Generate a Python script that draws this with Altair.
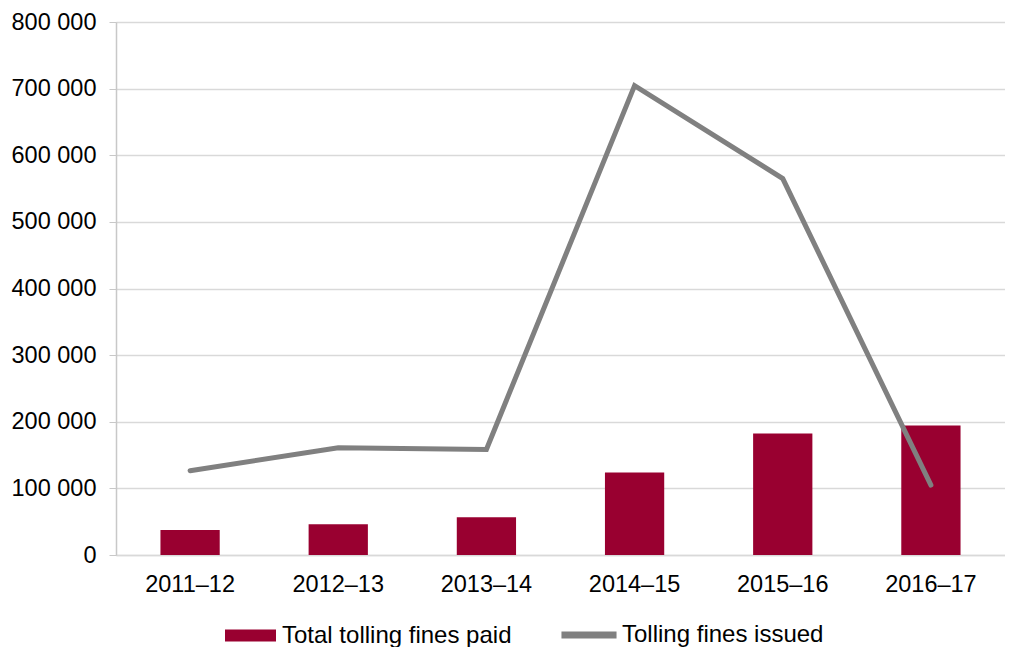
import altair as alt
import pandas as pd

years = ["2011–12", "2012–13", "2013–14", "2014–15", "2015–16", "2016–17"]
paid = [37500, 46000, 56500, 124000, 182500, 194500]
issued = [126500, 161000, 158500, 704500, 565000, 105000]

S_PAID = "Total tolling fines paid"
S_ISSUED = "Tolling fines issued"
MAROON = "#990030"
GRAY = "#808080"

rows = []
for y, p, i in zip(years, paid, issued):
    rows.append({"year": y, "series": S_PAID, "value": p})
    rows.append({"year": y, "series": S_ISSUED, "value": i})
df = pd.DataFrame(rows)

font = "Liberation Sans"
FS = 23.5

x_enc = alt.X(
    "year:N",
    sort=years,
    title=None,
    scale=alt.Scale(paddingInner=0.6, paddingOuter=0.3),
    axis=alt.Axis(
        labelAngle=0, ticks=False, labelPadding=17, labelFontSize=FS,
        labelColor="#000000", domainColor="#D9D9D9", domainWidth=1.5, grid=False,
        labelFont=font,
    ),
)
y_enc = alt.Y(
    "value:Q",
    title=None,
    scale=alt.Scale(domain=[0, 800000], nice=False),
    axis=alt.Axis(
        values=[0, 100000, 200000, 300000, 400000, 500000, 600000, 700000, 800000],
        labelExpr="replace(format(datum.value, ','), regexp(',', 'g'), ' ')",
        labelFontSize=FS, labelColor="#000000", labelPadding=13, tickSize=7,
        tickColor="#C8C8C8", domainColor="#C8C8C8", domainWidth=1.5,
        gridColor="#D9D9D9", gridWidth=1.5, labelFont=font,
    ),
)

common_legend = dict(
    orient="none", direction="horizontal", title=None, symbolSize=2601,
    labelFontSize=24, labelColor="#000000", labelFont=font,
    padding=0, labelLimit=0,
)

bar_color = alt.Color(
    "series:N",
    scale=alt.Scale(domain=[S_PAID], range=[MAROON]),
    legend=alt.Legend(
        legendX=109, legendY=588, symbolType="M-1,-0.235H1V0.235H-1Z",
        symbolStrokeWidth=0, labelOffset=6, **common_legend,
    ),
)
line_stroke = alt.Stroke(
    "series:N",
    scale=alt.Scale(domain=[S_ISSUED], range=[GRAY]),
    legend=alt.Legend(
        legendX=444, legendY=584, symbolType="M-1.08,0H1.08", symbolStrokeWidth=7,
        symbolFillColor="transparent", labelOffset=4, **common_legend,
    ),
)

base = alt.Chart(df)

bars = base.transform_filter(alt.datum.series == S_PAID).mark_bar().encode(
    x=x_enc, y=y_enc, color=bar_color
)
line = base.transform_filter(alt.datum.series == S_ISSUED).mark_line(
    strokeWidth=5, strokeJoin="miter", strokeCap="round"
).encode(x=x_enc, y=y_enc, stroke=line_stroke)

chart = (
    alt.layer(bars, line)
    .properties(width=889, height=533, padding={"left": 3, "top": 2, "right": 0, "bottom": 0})
    .configure_view(stroke=None)
    .configure(font=font)
)

chart.save("out.html", embed_options={"renderer": "svg", "actions": False})
